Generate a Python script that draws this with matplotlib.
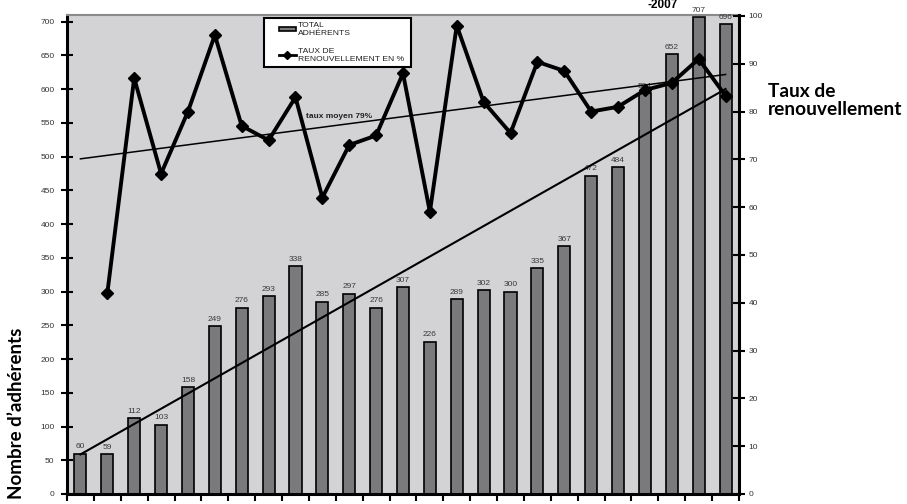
import matplotlib.pyplot as plt
import numpy as np
from matplotlib.patches import Patch, Rectangle
from matplotlib.lines import Line2D

# Données
adherents = [60, 59, 112, 103, 158, 249, 276, 293, 338, 285, 297, 276, 307,
             226, 289, 302, 300, 335, 367, 472, 484, 594, 652, 707, 696]
# taux de renouvellement (%) : pas de valeur pour la première année
taux = [42, 87, 67, 80, 96, 77, 74, 83, 62, 73, 75, 88, 59, 98, 82, 75.5,
        90.4, 88.5, 80, 81, 84.5, 86, 91, 83.3]

plt.rcParams['font.family'] = ['Liberation Sans', 'DejaVu Sans']

n = len(adherents)
x = np.arange(n)
x_taux = np.arange(1, n)

fig = plt.figure(figsize=(9.07, 5.04), dpi=100)
ax = fig.add_axes([67 / 907, 10 / 504, 672 / 907, 479 / 504])
ax.set_facecolor('#d3d3d5')

ax.bar(x, adherents, width=0.45, color='#7a7a7c', edgecolor='black',
       linewidth=1.2, zorder=2)
for xi, v in zip(x, adherents):
    ax.text(xi, v + 5, str(v), ha='center', va='bottom', fontsize=6,
            color='#3a3a3a', zorder=3)

# tendance linéaire des adhérents
p = np.polyfit(x, adherents, 1)
ax.plot([0, n - 1], np.polyval(p, [0, n - 1]), color='black', lw=1.5, zorder=4)

ax.set_xlim(-0.5, n - 0.5)
ax.set_ylim(0, 710)
ax.set_yticks(range(0, 701, 50))
ax.set_xticks(np.arange(-0.5, n, 1))
ax.set_xticklabels([])
ax.tick_params(axis='x', direction='out', length=5, width=1.5)
ax.tick_params(axis='y', direction='inout', length=8, width=1.5,
               labelsize=6, labelcolor='#333333', pad=5)
for s in ['left', 'bottom']:
    ax.spines[s].set_linewidth(2.2)
ax.spines['top'].set_color('#8a8a8a')
ax.spines['top'].set_linewidth(1.5)
ax.spines['right'].set_visible(False)

ax2 = ax.twinx()
ax2.plot(x_taux, taux, color='black', lw=2.8, marker='D', markersize=6.5,
         zorder=5)
p2 = np.polyfit(x_taux, taux, 1)
ax2.plot([0, n - 1], np.polyval(p2, [0, n - 1]), color='black', lw=1.1)
ax2.set_ylim(0, 100.2)
ax2.set_yticks(range(0, 101, 10))
ax2.tick_params(axis='y', direction='inout', length=8, width=1.5,
                labelsize=6, labelcolor='#333333', pad=3)
ax2.spines['right'].set_linewidth(2.2)
ax2.spines['top'].set_visible(False)
ax2.spines['left'].set_visible(False)
ax2.spines['bottom'].set_visible(False)
ax2.text(8.4, 78.6, 'taux moyen 79%', fontsize=6, fontweight='bold',
         color='#222222')

# cadre de la légende
fig.add_artist(Rectangle((264 / 907, 1 - 67 / 504), 147 / 907, 49 / 504,
                         transform=fig.transFigure, facecolor='white',
                         edgecolor='black', linewidth=1.5, zorder=4))
handles = [Patch(facecolor='#7a7a7c', edgecolor='black', linewidth=1.2),
           Line2D([], [], color='black', lw=2, marker='D', markersize=4.5)]
leg = fig.legend(handles, ['TOTAL\nADHÉRENTS', 'TAUX DE\nRENOUVELLEMENT EN %'],
                 loc='upper left', bbox_to_anchor=(279 / 907, 1 - 22 / 504),
                 fontsize=6.1, frameon=False, handlelength=2.0,
                 handleheight=0.4, handletextpad=0.25, labelspacing=1.3,
                 borderpad=0, borderaxespad=0)
leg.set_zorder(6)
for t in leg.get_texts():
    t.set_color('#222222')

fig.text(663 / 907, 1 - 7.5 / 504, '-2007', ha='center', va='baseline',
         fontsize=8.5, fontweight='bold')
fig.text(768 / 907, 1 - 115 / 504, 'Taux de\nrenouvellement', ha='left',
         va='baseline', fontsize=13.8, fontweight='bold',
         family=['Lato', 'DejaVu Sans'], linespacing=1.05)
fig.text(17 / 907, 1 - 413 / 504, 'Nombre d\u2019adhérents', rotation=90,
         ha='center', va='center', fontsize=13.5, fontweight='bold',
         family=['Lato', 'DejaVu Sans'])

fig.savefig('out.png', dpi=100)
